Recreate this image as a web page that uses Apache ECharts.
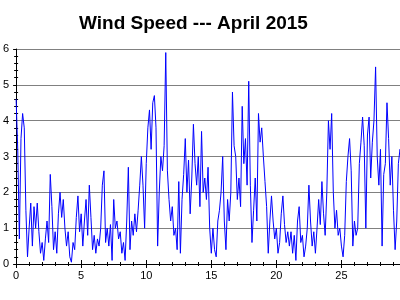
<!DOCTYPE html>
<html>
<head>
<meta charset="utf-8">
<script src="https://cdn.jsdelivr.net/npm/echarts@6/dist/echarts.min.js"></script>
<style>
html,body{margin:0;padding:0;background:#fff;overflow:hidden;width:400px;height:300px;}
#chart{width:420px;height:300px;}
</style>
</head>
<body>
<div id="chart"></div>
<script>
// Wind speed, 8 readings per day (3-hourly), April 2015
const titleText = 'Wind Speed --- April 2015';
const samplesPerDay = 8;
const speed = [
  // day 0
  4.6, 3.2, 0.7, 3.5, 4.2, 3.8, 1.5, 0.2,
  // day 1
  1.0, 1.7, 0.5, 1.6, 1.0, 1.7, 0.9, 0.3,
  // day 2
  0.6, 0.1, 0.7, 1.2, 0.6, 2.5, 1.6, 0.4,
  // day 3
  0.9, 0.3, 1.4, 2.0, 1.3, 1.8, 1.0, 0.5,
  // day 4
  0.9, 0.2, 0.05, 0.6, 0.4, 1.3, 1.9, 0.9,
  // day 5
  1.4, 0.5, 1.2, 1.8, 0.8, 2.2, 1.3, 0.4,
  // day 6
  0.8, 0.3, 0.7, 0.5, 1.0, 2.2, 2.6, 0.6,
  // day 7
  1.0, 0.5, 1.1, 0.1, 1.8, 1.0, 1.2, 0.7,
  // day 8
  0.9, 0.3, 0.6, 0.1, 1.2, 2.7, 0.4, 1.2,
  // day 9
  0.8, 1.4, 0.9, 1.5, 2.2, 3.0, 2.2, 1.0,
  // day 10
  2.8, 3.8, 4.3, 3.2, 4.5, 4.7, 3.8, 0.5,
  // day 11
  2.0, 3.0, 2.6, 3.3, 5.9, 2.6, 1.8, 1.2,
  // day 12
  1.6, 0.8, 1.0, 0.4, 2.3, 0.3, 1.8, 2.5,
  // day 13
  3.5, 2.0, 2.9, 1.4, 2.4, 3.9, 2.8, 2.2,
  // day 14
  3.0, 1.6, 3.7, 2.0, 2.4, 1.8, 2.7, 1.0,
  // day 15
  0.3, 1.0, 0.4, 0.2, 1.2, 1.5, 2.0, 3.0,
  // day 16
  1.2, 0.4, 1.8, 1.2, 2.0, 4.8, 3.3, 3.0,
  // day 17
  1.8, 2.4, 1.6, 4.4, 2.8, 3.5, 2.2, 5.1,
  // day 18
  2.2, 0.6, 1.5, 2.4, 1.2, 4.2, 3.4, 3.8,
  // day 19
  3.0, 2.3, 1.6, 0.3, 1.2, 1.9, 1.2, 0.7,
  // day 20
  1.0, 0.3, 0.6, 1.4, 1.9, 1.1, 0.6, 0.9,
  // day 21
  0.5, 0.9, 0.3, 0.8, 0.1, 1.2, 1.6, 0.6,
  // day 22
  0.8, 0.2, 0.5, 1.0, 2.2, 1.2, 0.5, 0.9,
  // day 23
  0.3, 1.0, 1.8, 1.1, 2.3, 1.4, 0.8, 2.0,
  // day 24
  4.0, 3.2, 4.2, 2.0, 1.0, 1.5, 0.8, 1.0,
  // day 25
  0.5, 0.2, 0.8, 2.3, 3.0, 3.5, 2.6, 0.5,
  // day 26
  1.2, 0.8, 1.0, 2.8, 3.4, 4.1, 3.3, 1.0,
  // day 27
  3.6, 4.1, 2.4, 3.4, 4.0, 5.5, 3.0, 2.2,
  // day 28
  3.2, 0.5, 2.5, 2.8, 4.5, 3.5, 2.2, 3.0,
  // day 29
  1.5, 0.4, 1.2, 2.8, 3.2, 3.0, 2.8, 3.0
];
const yTicks = [0, 1, 2, 3, 4, 5, 6];
const xTickStep = 5;

const points = speed.map((v, i) => [i / samplesPerDay, v]);

const chart = echarts.init(document.getElementById('chart'), null, {renderer: 'canvas'});
const font = 'Liberation Sans, Arial, sans-serif';
const baseX = {
  type: 'value', min: 0, max: 30, interval: xTickStep,
  position: 'bottom',
  splitLine: {show: false},
  minorTick: {show: true, splitNumber: 5, length: 2, lineStyle: {color: '#000'}},
};
const baseY = {
  type: 'value', min: yTicks[0], max: yTicks[yTicks.length - 1], interval: 1,
  position: 'left',
  minorTick: {show: true, splitNumber: 5, length: 2, lineStyle: {color: '#000'}},
};
chart.setOption({
  animation: false,
  backgroundColor: '#fff',
  title: {
    text: titleText, left: 74, top: 9,
    textStyle: {fontFamily: font, fontSize: 19, fontWeight: 'bold', color: '#000'}
  },
  grid: {left: 15, top: 49, width: 391.5, height: 215, containLabel: false},
  xAxis: [
    Object.assign({}, baseX, {
      axisLine: {show: true, lineStyle: {color: '#000', width: 1}},
      axisTick: {show: true, length: 4, inside: false, lineStyle: {color: '#000'}},
      axisLabel: {show: true, margin: 6, fontFamily: font, fontSize: 11, color: '#000'}
    }),
    Object.assign({}, baseX, {
      axisLine: {show: false},
      axisTick: {show: true, length: 4, inside: true, lineStyle: {color: '#000'}},
      minorTick: {show: true, splitNumber: 5, length: 2, lineStyle: {color: '#000'}},
      axisLabel: {show: false}
    })
  ],
  yAxis: [
    Object.assign({}, baseY, {
      axisLine: {show: true, lineStyle: {color: '#000', width: 1}},
      axisTick: {show: true, length: 3, inside: false, lineStyle: {color: '#000'}},
      axisLabel: {show: true, margin: 7, fontFamily: font, fontSize: 11, color: '#000'},
      splitLine: {show: true, lineStyle: {color: '#808080', width: 1}}
    }),
    Object.assign({}, baseY, {
      axisLine: {show: false},
      axisTick: {show: false},
      minorTick: {show: true, splitNumber: 5, length: 2, lineStyle: {color: '#000'}},
      axisLabel: {show: false},
      splitLine: {show: false},
      axisTick: {show: false, inside: true}
    })
  ],
  series: [{
    type: 'line',
    xAxisIndex: 0, yAxisIndex: 0,
    data: points,
    showSymbol: false,
    symbol: 'none',
    lineStyle: {color: '#0000ff', width: 1},
    itemStyle: {color: '#0000ff'}
  }]
});
</script>
</body>
</html>
